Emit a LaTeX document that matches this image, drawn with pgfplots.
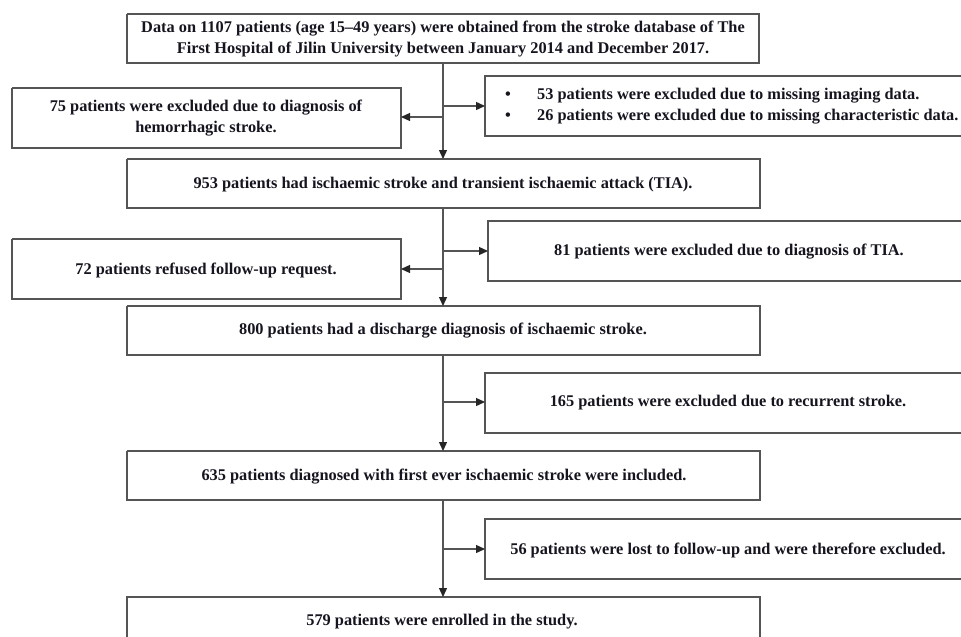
\documentclass[border=0pt]{standalone}
\usepackage{pgfplots}
\pgfplotsset{compat=1.18}
\usepackage{fontspec}
\setmainfont{Liberation Serif}
\usetikzlibrary{arrows.meta}
\definecolor{boxgray}{HTML}{555555}
\definecolor{txt}{HTML}{15151F}
\begin{document}
\begin{tikzpicture}
\begin{axis}[
  width=961bp, height=637bp, scale only axis,
  xmin=0, xmax=961, ymin=0, ymax=637, y dir=reverse,
  hide axis, clip=true,
  bx/.style={no marks, solid, line width=1.3bp, draw=boxgray},
  ar/.style={no marks, solid, line width=1.3bp, draw=boxgray, -{Triangle[length=9bp,width=8bp,color=black!85]}},
]
% boxes
\addplot[bx] coordinates {(127,14) (759,14) (759,63) (127,63) (127,14)};
\addplot[bx] coordinates {(12,88) (401,88) (401,148) (12,148) (12,88)};
\addplot[bx] coordinates {(975,76) (485,76) (485,136) (975,136)};
\addplot[bx] coordinates {(127,159) (760,159) (760,208) (127,208) (127,159)};
\addplot[bx] coordinates {(12,239) (401,239) (401,299) (12,299) (12,239)};
\addplot[bx] coordinates {(975,221) (488,221) (488,281) (975,281)};
\addplot[bx] coordinates {(127,306) (760,306) (760,355) (127,355) (127,306)};
\addplot[bx] coordinates {(975,373) (485,373) (485,433) (975,433)};
\addplot[bx] coordinates {(127,451) (760,451) (760,500) (127,500) (127,451)};
\addplot[bx] coordinates {(975,519) (485,519) (485,579) (975,579)};
\addplot[bx] coordinates {(127,660) (127,597) (760,597) (760,660)};
% vertical arrows
\addplot[ar] coordinates {(443,63) (443,159)};
\addplot[ar] coordinates {(443,208) (443,306)};
\addplot[ar] coordinates {(443,355) (443,451)};
\addplot[ar] coordinates {(443,500) (443,597)};
% horizontal arrows
\addplot[ar] coordinates {(443,106) (485,106)};
\addplot[ar] coordinates {(443,117) (401,117)};
\addplot[ar] coordinates {(443,251) (488,251)};
\addplot[ar] coordinates {(443,269) (401,269)};
\addplot[ar] coordinates {(443,402) (485,402)};
\addplot[ar] coordinates {(443,549) (485,549)};
% texts
\tikzset{t/.style={text=txt, font=\fontsize{16.4}{21}\selectfont\bfseries, inner sep=0pt, align=center}}
\node[t] at (axis cs:443,39) {Data on 1107 patients (age 15--49 years) were obtained from the stroke database of The\\First Hospital of Jilin University between January 2014 and December 2017.};
\node[t] at (axis cs:206,118) {75 patients were excluded due to diagnosis of\\hemorrhagic stroke.};
\node[t] at (axis cs:508,96) {\textbullet};
\node[t] at (axis cs:508,117) {\textbullet};
\node[t, anchor=west] at (axis cs:537,96) {53 patients were excluded due to missing imaging data.};
\node[t, anchor=west] at (axis cs:537,117) {26 patients were excluded due to missing characteristic data.};
\node[t] at (axis cs:443,185) {953 patients had ischaemic stroke and transient ischaemic attack (TIA).};
\node[t] at (axis cs:206,270) {72 patients refused follow-up request.};
\node[t] at (axis cs:729,252) {81 patients were excluded due to diagnosis of TIA.};
\node[t] at (axis cs:443,331) {800 patients had a discharge diagnosis of ischaemic stroke.};
\node[t] at (axis cs:728,403) {165 patients were excluded due to recurrent stroke.};
\node[t] at (axis cs:444,477) {635 patients diagnosed with first ever ischaemic stroke were included.};
\node[t] at (axis cs:728,550) {56 patients were lost to follow-up and were therefore excluded.};
\node[t] at (axis cs:442,622) {579 patients were enrolled in the study.};
\end{axis}
\pgfresetboundingbox
\useasboundingbox (current axis.south west) rectangle (current axis.north east);
\end{tikzpicture}
\end{document}
